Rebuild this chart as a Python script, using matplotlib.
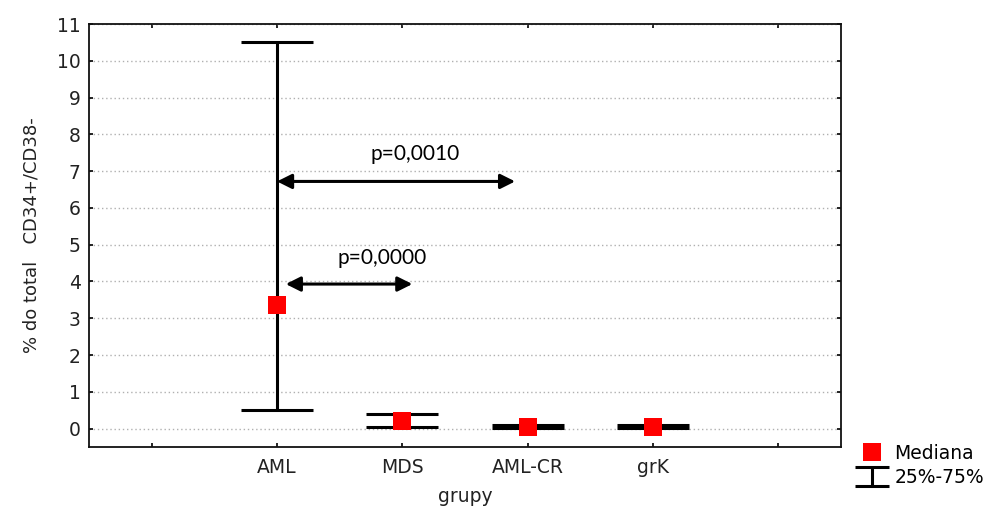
"""
Median and IQR of CD34+/CD38- (% of total) by group, with p-value arrows.
"""

import matplotlib.pyplot as plt
from matplotlib.lines import Line2D
from matplotlib.container import ErrorbarContainer
from matplotlib.legend_handler import HandlerErrorbar

# Data
groups = ['AML', 'MDS', 'AML-CR', 'grK']
medians = [3.35, 0.20, 0.05, 0.05]
q25 = [0.50, 0.04, 0.01, 0.01]
q75 = [10.50, 0.39, 0.09, 0.09]

# comparisons: (from group, to group end, y level, label)
comp_from = [1.0, 1.07]
comp_to = [2.9, 2.08]
comp_y = [6.72, 3.93]
comp_labels = ['p=0,0010', 'p=0,0000']
label_x = [2.1, 1.84]
label_y = [7.46, 4.64]

positions = list(range(1, len(groups) + 1))

fig = plt.figure(figsize=(10.01, 5.13), dpi=100)
ax = fig.add_axes([89 / 1001, 1 - 447 / 513, (841 - 89) / 1001, (447 - 24) / 513])

# error bars (25%-75%)
lower = [m - a for m, a in zip(medians, q25)]
upper = [b - m for m, b in zip(medians, q75)]
eb = ax.errorbar(positions, medians, yerr=[lower, upper], fmt='none',
                 ecolor='black', elinewidth=2.2, capsize=26, capthick=2.2,
                 zorder=3)

# medians
med, = ax.plot(positions, medians, 's', color='#ff0000', markersize=12.5,
               markeredgewidth=0, zorder=4)

# p-value arrows
for x0, x1, y, lab, tx, ty in zip(comp_from, comp_to, comp_y, comp_labels,
                                  label_x, label_y):
    ax.annotate('', xy=(x1, y), xytext=(x0, y),
                arrowprops=dict(arrowstyle='<|-|>', color='black', lw=2.2,
                                mutation_scale=22, shrinkA=0, shrinkB=0),
                zorder=5)
    ax.text(tx, ty, lab, ha='center', va='center', fontsize=15,
            family='Lato', color='black')

# axes formatting
ax.set_xlim(-0.5, 5.5)
ax.set_ylim(-0.5, 11)
ax.set_xticks(range(0, 6))
ax.set_xticklabels([''] + groups + [''])
ax.set_yticks(range(0, 12))
ax.tick_params(direction='in', length=3, width=1.2, top=True, right=True,
               labelsize=13.5, colors='black', pad=6)
ax.tick_params(axis='y', labelcolor='#222222')
ax.tick_params(axis='x', labelcolor='#222222', pad=8)
for s in ax.spines.values():
    s.set_linewidth(1.3)
    s.set_color('#111111')

ax.yaxis.grid(True, linestyle=(0, (1, 2)), color='#b0b0b0', linewidth=1)
ax.set_axisbelow(True)

ax.set_ylabel('% do total   CD34+/CD38-', fontsize=13, color='#222222',
              labelpad=12)
ax.set_xlabel('grupy', fontsize=13.5, color='#222222', labelpad=7)


# smaller caps for the legend symbol
def small_caps(legend_handle, orig_handle):
    legend_handle.update_from(orig_handle)
    if isinstance(legend_handle, Line2D) and legend_handle.get_marker() == '_':
        legend_handle.set_markersize(25)


# legend outside, bottom right
ax.legend([med, eb], ['Mediana', '25%-75%'], loc='upper left',
          bbox_to_anchor=(857 / 1001, 1 - 444 / 513),
          bbox_transform=fig.transFigure, frameon=False, fontsize=13.5,
          handlelength=1.6, handletextpad=0.4, labelspacing=0.25,
          borderpad=0, borderaxespad=0,
          handler_map={ErrorbarContainer: HandlerErrorbar(update_func=small_caps)})

plt.savefig('out.png', dpi=100)
plt.close()
